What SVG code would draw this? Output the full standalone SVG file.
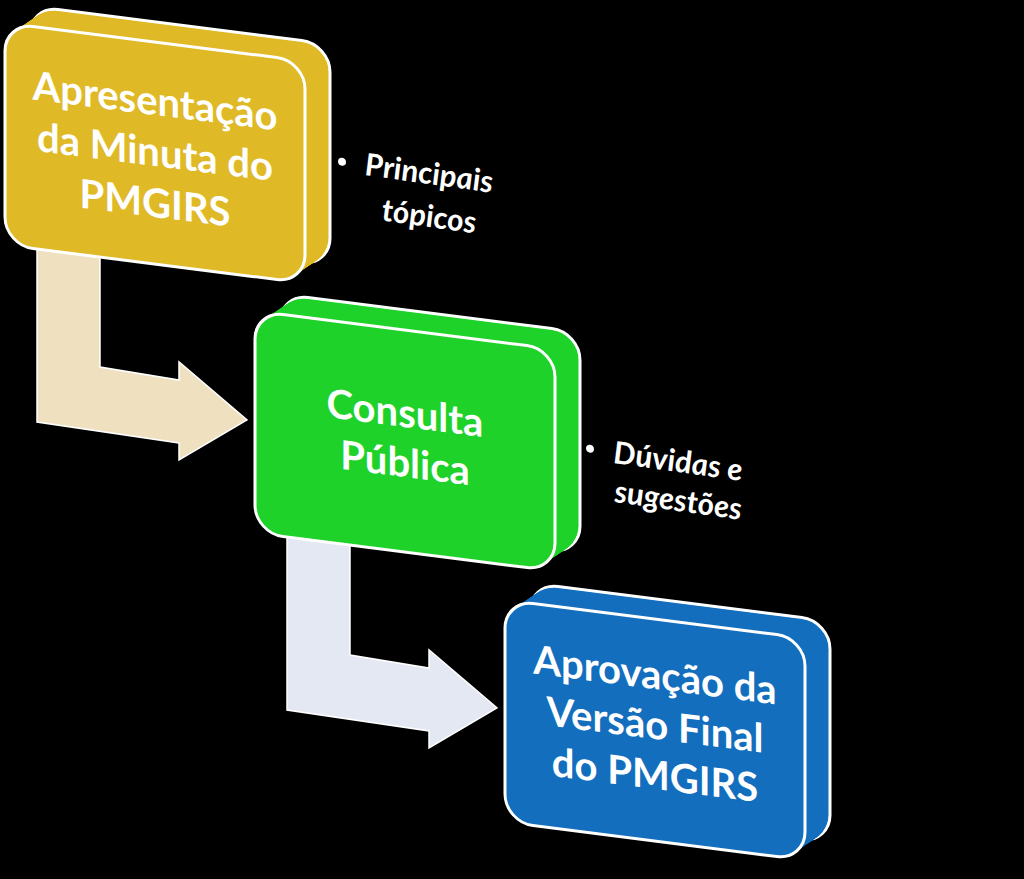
<svg xmlns="http://www.w3.org/2000/svg" xmlns:xlink="http://www.w3.org/1999/xlink" width="1024" height="879" viewBox="0 0 1024 879">
<style>
.face{stroke:#ffffff;stroke-width:3}
.fill{stroke:none}
.yel{fill:#E0B927}
.grn{fill:#1ED22A}
.blu{fill:#146EBE}
.lbl{font-family:Lato,"Liberation Sans",sans-serif;font-weight:700;font-size:40px;fill:#ffffff;text-anchor:middle}
.note{font-family:Lato,"Liberation Sans",sans-serif;font-weight:700;font-style:italic;font-size:31px;fill:#ffffff;text-anchor:middle}
.arrow{stroke:#ffffff;stroke-width:1.5;stroke-linejoin:miter}
</style>
<defs>
<rect id="face" x="0" y="0" width="300" height="222" rx="28" ry="28"/>
</defs>
<rect x="0" y="0" width="1024" height="879" fill="#000000"/>

<g id="connectors">
<polygon class="arrow" fill="#EFE0C0" points="37,230 100,230 100,367 179,380 179,362 247,420 179,460 179,443 37,422"/>
<polygon class="arrow" fill="#E4E8F2" points="287,518 350,518 350,655 429,668 429,650 497,708 429,748 429,731 287,710"/>
</g>

<g id="node1" transform="translate(5,23) matrix(1,0.127,0,1,0,0)">
<use xlink:href="#face" class="face yel" x="25" y="-20.2"/>
<use xlink:href="#face" class="fill yel" x="22.5" y="-18.2"/>
<use xlink:href="#face" class="fill yel" x="20" y="-16.2"/>
<use xlink:href="#face" class="fill yel" x="17.5" y="-14.1"/>
<use xlink:href="#face" class="fill yel" x="15" y="-12.1"/>
<use xlink:href="#face" class="fill yel" x="12.5" y="-10.1"/>
<use xlink:href="#face" class="fill yel" x="10" y="-8.1"/>
<use xlink:href="#face" class="fill yel" x="7.5" y="-6.1"/>
<use xlink:href="#face" class="fill yel" x="5" y="-4"/>
<use xlink:href="#face" class="fill yel" x="2.5" y="-2"/>
<use xlink:href="#face" class="face yel"/>
<text class="lbl" x="150" y="73">Apresentação</text>
<text class="lbl" x="150" y="124">da Minuta do</text>
<text class="lbl" x="150" y="175">PMGIRS</text>
</g>

<g id="node2" transform="translate(255,311) matrix(1,0.127,0,1,0,0)">
<use xlink:href="#face" class="face grn" x="25" y="-20.2"/>
<use xlink:href="#face" class="fill grn" x="22.5" y="-18.2"/>
<use xlink:href="#face" class="fill grn" x="20" y="-16.2"/>
<use xlink:href="#face" class="fill grn" x="17.5" y="-14.1"/>
<use xlink:href="#face" class="fill grn" x="15" y="-12.1"/>
<use xlink:href="#face" class="fill grn" x="12.5" y="-10.1"/>
<use xlink:href="#face" class="fill grn" x="10" y="-8.1"/>
<use xlink:href="#face" class="fill grn" x="7.5" y="-6.1"/>
<use xlink:href="#face" class="fill grn" x="5" y="-4"/>
<use xlink:href="#face" class="fill grn" x="2.5" y="-2"/>
<use xlink:href="#face" class="face grn"/>
<text class="lbl" x="150" y="97">Consulta</text>
<text class="lbl" x="150" y="147">Pública</text>
</g>

<g id="node3" transform="translate(505,600) matrix(1,0.127,0,1,0,0)">
<use xlink:href="#face" class="face blu" x="25" y="-20.2"/>
<use xlink:href="#face" class="fill blu" x="22.5" y="-18.2"/>
<use xlink:href="#face" class="fill blu" x="20" y="-16.2"/>
<use xlink:href="#face" class="fill blu" x="17.5" y="-14.1"/>
<use xlink:href="#face" class="fill blu" x="15" y="-12.1"/>
<use xlink:href="#face" class="fill blu" x="12.5" y="-10.1"/>
<use xlink:href="#face" class="fill blu" x="10" y="-8.1"/>
<use xlink:href="#face" class="fill blu" x="7.5" y="-6.1"/>
<use xlink:href="#face" class="fill blu" x="5" y="-4"/>
<use xlink:href="#face" class="fill blu" x="2.5" y="-2"/>
<use xlink:href="#face" class="face blu"/>
<text class="lbl" x="150" y="70">Aprovação da</text>
<text class="lbl" x="150" y="120">Versão Final</text>
<text class="lbl" x="150" y="170">do PMGIRS</text>
</g>

<g id="note1" transform="translate(429,184) matrix(1,0.14,0,1,0,0)">
<circle cx="-87" cy="-10" r="4" fill="#ffffff"/>
<text class="note" x="0" y="0">Principais</text>
<text class="note" x="0" y="43">tópicos</text>
</g>

<g id="note2" transform="translate(678,472) matrix(1,0.14,0,1,0,0)">
<circle cx="-88" cy="-11" r="4" fill="#ffffff"/>
<text class="note" x="0" y="0">Dúvidas e</text>
<text class="note" x="0" y="39">sugestões</text>
</g>
</svg>
